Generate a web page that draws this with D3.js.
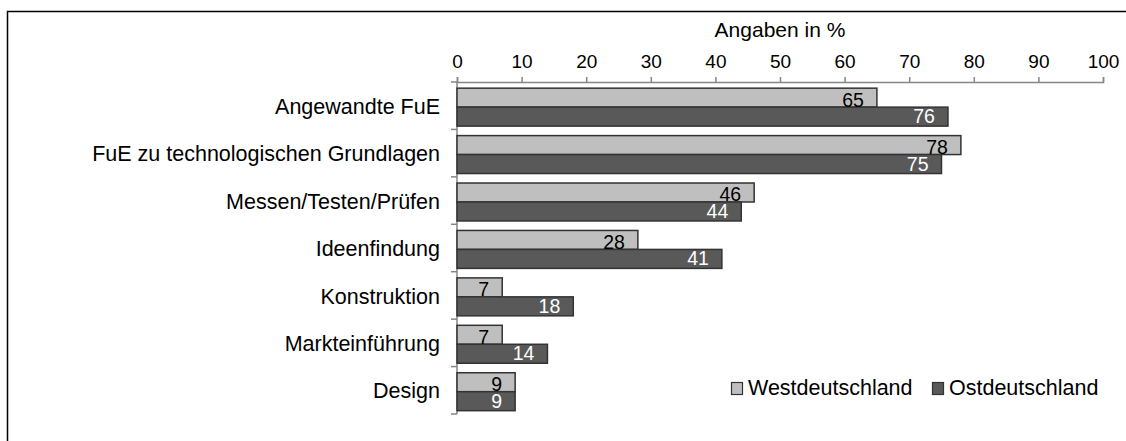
<!DOCTYPE html>
<html>
<head>
<meta charset="utf-8">
<script src="https://cdn.jsdelivr.net/npm/d3@7"></script>
<style>
  body { margin: 0; background: #fff; }
  svg { display: block; font-family: "Liberation Sans", Arial, sans-serif; }
</style>
</head>
<body>
<script>
// data
let categories = [
  "Angewandte FuE",
  "FuE zu technologischen Grundlagen",
  "Messen/Testen/Prüfen",
  "Ideenfindung",
  "Konstruktion",
  "Markteinführung",
  "Design"
];
let seriesNames = ["Westdeutschland", "Ostdeutschland"];
let west = [65, 78, 46, 28, 7, 7, 9];
let east = [76, 75, 44, 41, 18, 14, 9];
let xTicks = [0, 10, 20, 30, 40, 50, 60, 70, 80, 90, 100];
let axisTitle = "Angaben in %";

// globals
let width = 1126;
let height = 441;
let fills = ["#bfbfbf", "#595959"];
let labelColors = ["#000", "#fff"];

let rows = categories.map((c, i) => ({ cat: c, values: [west[i], east[i]] }));

let svg = d3
  .select("body")
  .append("svg")
  .attr("width", width)
  .attr("height", height);

// chart frame (cut off on the right and bottom)
svg
  .append("rect")
  .attr("x", 7.5)
  .attr("y", 11.5)
  .attr("width", 1300)
  .attr("height", 600)
  .attr("fill", "none")
  .attr("stroke", "#000")
  .attr("stroke-width", 1.5);

let x = d3.scaleLinear().domain([0, 100]).range([457, 1103]);

let y = d3
  .scaleBand()
  .domain(categories)
  .range([82, 414])
  .paddingInner(0.2)
  .paddingOuter(0.1)
  .align(0.65);

let ySub = d3
  .scaleBand()
  .domain([0, 1])
  .range([0, y.bandwidth()]);

// top axis
let xAxis = g =>
  g
    .attr("transform", "translate(0,82)")
    .call(d3.axisTop(x).tickValues(xTicks).tickSize(5).tickPadding(9))
    .call(g => g.select(".domain").attr("stroke", "#868686").attr("stroke-width", 1.5))
    .call(g => g.selectAll(".tick line").attr("stroke", "#868686").attr("stroke-width", 1.5))
    .call(g =>
      g
        .selectAll(".tick text")
        .attr("fill", "#000")
        .attr("font-size", 19)
    );

svg.append("g").attr("font-family", null).call(xAxis);

svg
  .append("text")
  .attr("x", x(50))
  .attr("y", 37)
  .attr("text-anchor", "middle")
  .attr("font-size", 21)
  .text(axisTitle);

// left axis: line plus ticks between the categories
let step = y.step();
let yBounds = d3.range(categories.length + 1).map(i => 82 + i * step);

let left = svg.append("g");
left
  .append("line")
  .attr("x1", x(0))
  .attr("x2", x(0))
  .attr("y1", 82)
  .attr("y2", 414)
  .attr("stroke", "#868686")
  .attr("stroke-width", 1.5);
left
  .selectAll("line.tick")
  .data(yBounds)
  .enter()
  .append("line")
  .attr("class", "tick")
  .attr("x1", x(0) - 6)
  .attr("x2", x(0))
  .attr("y1", d => d)
  .attr("y2", d => d)
  .attr("stroke", "#868686")
  .attr("stroke-width", 1.5);

// category labels
svg
  .append("g")
  .selectAll("text")
  .data(categories)
  .enter()
  .append("text")
  .attr("x", 440)
  .attr("y", (d, i) => yBounds[i] + step / 2)
  .attr("dy", "0.38em")
  .attr("text-anchor", "end")
  .attr("font-size", 21.5)
  .text(d => d);

// bars
let group = svg
  .append("g")
  .selectAll("g")
  .data(rows)
  .enter()
  .append("g")
  .attr("transform", d => `translate(0,${y(d.cat)})`);

group
  .selectAll("rect")
  .data(d => d.values)
  .enter()
  .append("rect")
  .attr("x", x(0))
  .attr("y", (d, i) => ySub(i))
  .attr("width", d => x(d) - x(0))
  .attr("height", ySub.bandwidth())
  .attr("fill", (d, i) => fills[i])
  .attr("stroke", "#333")
  .attr("stroke-width", 1.5);

group
  .selectAll("text")
  .data(d => d.values)
  .enter()
  .append("text")
  .attr("x", d => x(d) - 13)
  .attr("y", (d, i) => ySub(i) + ySub.bandwidth() - (i == 0 ? 0.5 : 3))
  .attr("text-anchor", "end")
  .attr("font-size", 19.5)
  .attr("fill", (d, i) => labelColors[i])
  .text(d => d);

// legend
let legendX = [731, 932];
let legend = svg
  .append("g")
  .selectAll("g")
  .data(seriesNames)
  .enter()
  .append("g")
  .attr("transform", (d, i) => `translate(${legendX[i]},382)`);

legend
  .append("rect")
  .attr("x", 0.5)
  .attr("y", 0.5)
  .attr("width", 11)
  .attr("height", 12)
  .attr("fill", (d, i) => fills[i])
  .attr("stroke", "#333")
  .attr("stroke-width", 1.2);

legend
  .append("text")
  .attr("x", 17)
  .attr("y", 13)
  .attr("font-size", 21.5)
  .text(d => d);
</script>
</body>
</html>
